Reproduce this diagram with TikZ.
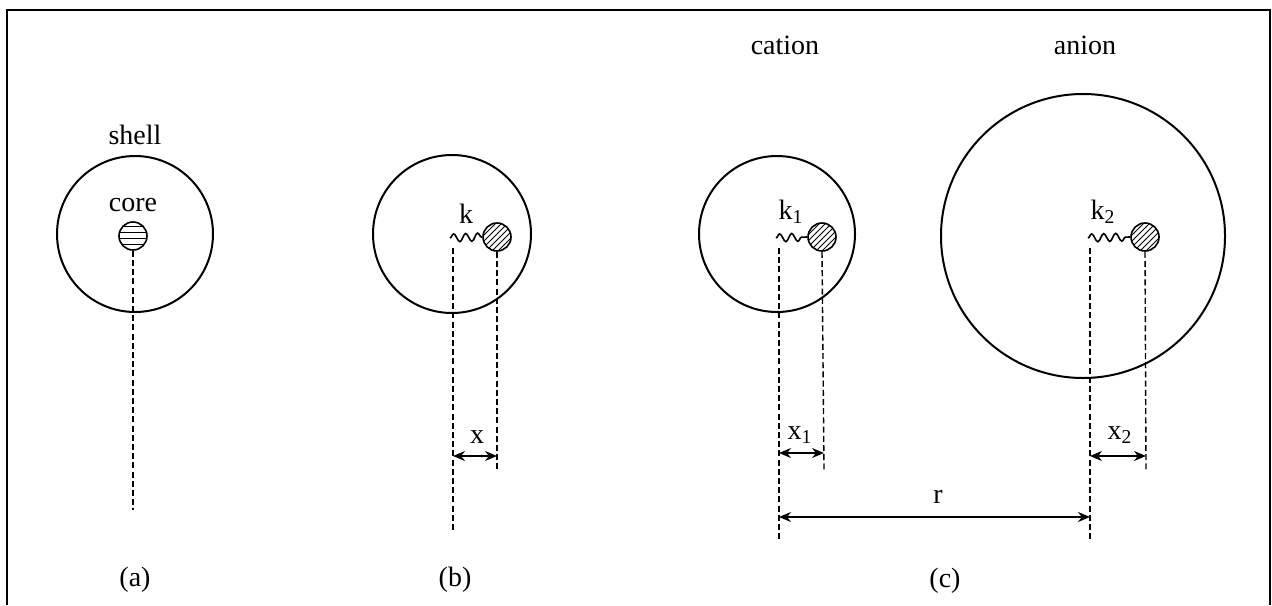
\documentclass[tikz,border=0pt]{standalone}
\usepackage{fontspec}
\setmainfont{Liberation Serif}
\usetikzlibrary{arrows.meta,decorations.pathmorphing,patterns}

\tikzset{
  shellring/.style={circle,draw,line width=1pt,minimum size=#1,inner sep=0pt},
  ball/.style={circle,draw,line width=0.8pt,minimum size=14pt,inner sep=0pt,pattern=north east lines},
  guide/.style={dash pattern=on 3pt off 1.6pt,line width=0.7pt},
  spring/.style={decorate,decoration={snake,segment length=6pt,amplitude=2pt},line width=0.8pt},
  span/.style={{Stealth[length=6pt,width=5pt]}-{Stealth[length=6pt,width=5pt]},line width=0.7pt},
  lbl/.style={font=\fontsize{14}{16}\selectfont,inner sep=1pt}
}

\begin{document}
\begin{tikzpicture}[x=0.5pt,y=-0.5pt]
    \useasboundingbox (0,0) rectangle (1272,605);
    % Frame (open at the bottom)
    \draw[line width=1pt] (7,605) -- (7,10) -- (1270,10) -- (1270,605);

    % (a) shell with centred core
    \node[shellring=78pt] (shellA) at (135,234) {};
    \node[ball,pattern=horizontal lines] (coreA) at (133,236) {};
    \node[lbl] (shellAlab) at (135,135) {shell};
    \node[lbl] (coreAlab) at (133,205) {core};
    \coordinate (guideAbot) at (133,510);
    \draw[guide] (coreA.south) -- (guideAbot);
    \node[lbl] (capA) at (135,580) {(a)};

    % (b) displaced core on a spring
    \node[shellring=79pt] (shellB) at (452,234) {};
    \node[ball] (ballB) at (497,237) {};
    \coordinate (springB) at (450,238);
    \draw[spring] (springB) -- (ballB.west);
    \node[lbl] (kB) at (466,214) {k};
    \coordinate (guideBtop) at (453,248);
    \coordinate (guideBbot) at (453,530);
    \coordinate (guideBend) at (497,470);
    \draw[guide] (guideBtop) -- (guideBbot);
    \draw[guide] (ballB.south) -- (guideBend);
    \coordinate (xBl) at (453,456);
    \coordinate (xBr) at (497,456);
    \draw[span] (xBl) -- (xBr);
    \node[lbl] (xBlab) at (477,437) {x};
    \node[lbl] (capB) at (455,580) {(b)};

    % (c) cation
    \node[shellring=78pt] (shellC) at (777,234) {};
    \node[ball] (ballC) at (822,237) {};
    \coordinate (springC) at (776,238);
    \draw[spring] (springC) -- (ballC.west);
    \node[lbl] (kC) at (791,212) {k\textsubscript{1}};
    \node[lbl] (catlab) at (785,45) {cation};
    \coordinate (guideCtop) at (779,248);
    \coordinate (guideCbot) at (779,541);
    \coordinate (guideCend) at (824,470);
    \draw[guide] (guideCtop) -- (guideCbot);
    \draw[guide] (ballC.south) -- (guideCend);
    \coordinate (xCl) at (779,453);
    \coordinate (xCr) at (824,453);
    \draw[span] (xCl) -- (xCr);
    \node[lbl] (xClab) at (800,435) {x\textsubscript{1}};

    % (c) anion
    \node[shellring=142pt] (shellD) at (1083,236) {};
    \node[ball] (ballD) at (1145,237) {};
    \coordinate (springD) at (1088,238);
    \draw[spring] (springD) -- (ballD.west);
    \node[lbl] (kD) at (1103,212) {k\textsubscript{2}};
    \node[lbl] (anlab) at (1085,45) {anion};
    \coordinate (guideDtop) at (1090,248);
    \coordinate (guideDbot) at (1090,541);
    \coordinate (guideDend) at (1146,470);
    \draw[guide] (guideDtop) -- (guideDbot);
    \draw[guide] (ballD.south) -- (guideDend);
    \coordinate (xDl) at (1090,456);
    \coordinate (xDr) at (1146,456);
    \draw[span] (xDl) -- (xDr);
    \node[lbl] (xDlab) at (1120,435) {x\textsubscript{2}};

    % separation r
    \coordinate (rl) at (779,517);
    \coordinate (rr) at (1090,517);
    \draw[span] (rl) -- (rr);
    \node[lbl] (rlab) at (938,497) {r};
    \node[lbl] (capC) at (945,581) {(c)};
  \end{tikzpicture}
\end{document}
